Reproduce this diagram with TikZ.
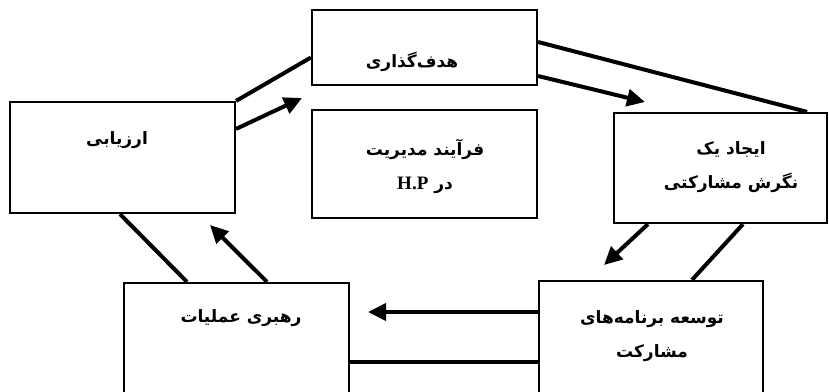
\documentclass[tikz,border=0pt]{standalone}
\usepackage{fontspec}
\setmainfont{Liberation Serif}
\newfontfamily\arabicfont[Script=Arabic]{DejaVu Sans}
\TeXXeTstate=1
\usetikzlibrary{arrows.meta}

\begin{document}
\begin{tikzpicture}[x=1pt, y=-1pt, >={Triangle[length=18pt,width=17pt]},
  stagebox/.style={draw, line width=2.2pt, inner sep=0pt},
  ptxt/.style={font=\arabicfont\bfseries\fontsize{17}{34}\selectfont, align=center},
  link/.style={line width=4pt},
  flow/.style={->, line width=4pt}]
\useasboundingbox (0,0) rectangle (829,391);
\clip (0,0) rectangle (829,391);
% Six boxes of the cycle
\node[stagebox, minimum width=225pt, minimum height=75pt]  (goal)     at (424.5, 47.5) {};
\node[stagebox, minimum width=225pt, minimum height=111pt] (eval)     at (122.5,157.5) {};
\node[stagebox, minimum width=225pt, minimum height=108pt] (core)     at (424.5,164)   {};
\node[stagebox, minimum width=213pt, minimum height=110pt] (attitude) at (720.5,168)   {};
\node[stagebox, minimum width=224pt, minimum height=124pt] (programs) at (651,  343)   {};
\node[stagebox, minimum width=225pt, minimum height=122pt] (lead)     at (236.5,344)   {};
% Texts in the boxes
\node[ptxt] (goal-t) at (412,62)  {\beginR هدف‌گذاری\endR};
\node[ptxt] (eval-t) at (117,140) {\beginR ارزیابی\endR};
\node[ptxt] (core-t) at (425,166)
  {\beginR فرآیند مدیریت\endR\\\beginR در \beginL{\normalfont\bfseries\fontsize{19}{34}\selectfont H.P}\endL\endR};
\node[ptxt] (att-t)  at (731,167) {\beginR ایجاد یک\endR\\\beginR نگرش مشارکتی\endR};
\node[ptxt] (prog-t) at (652,336) {\beginR توسعه برنامه‌های\endR\\\beginR مشارکت\endR};
\node[ptxt] (lead-t) at (241,318) {\beginR رهبری عملیات\endR};
% Free ends of the arrows
\coordinate (tip-a) at (302,98);
\coordinate (tip-b) at (645,102);
\coordinate (tip-c) at (604,265);
\coordinate (tip-d) at (368,312);
\coordinate (tip-e) at (210,225);
% Connectors
\draw[link] (eval.north east) -- ([yshift=-10pt]goal.west);
\draw[flow] ([yshift=-28pt]eval.north east) -- (tip-a);
\draw[link] ([yshift=5.5pt]goal.east) -- ([xshift=-21pt]attitude.north east);
\draw[flow] ([yshift=-28.5pt]goal.east) -- (tip-b);
\draw[link] ([xshift=22.5pt]attitude.south) -- ([xshift=41pt]programs.north);
\draw[flow] ([xshift=-72.5pt]attitude.south) -- (tip-c);
\draw[link] ([yshift=-19pt]programs.west) -- ([yshift=-19pt]programs.west -| lead.east);
\draw[flow] ([yshift=31pt]programs.west) -- (tip-d);
\draw[link] ([xshift=-49.5pt]lead.north) -- ([xshift=-2.5pt]eval.south);
\draw[flow] ([xshift=30.5pt]lead.north) -- (tip-e);
\end{tikzpicture}
\end{document}
